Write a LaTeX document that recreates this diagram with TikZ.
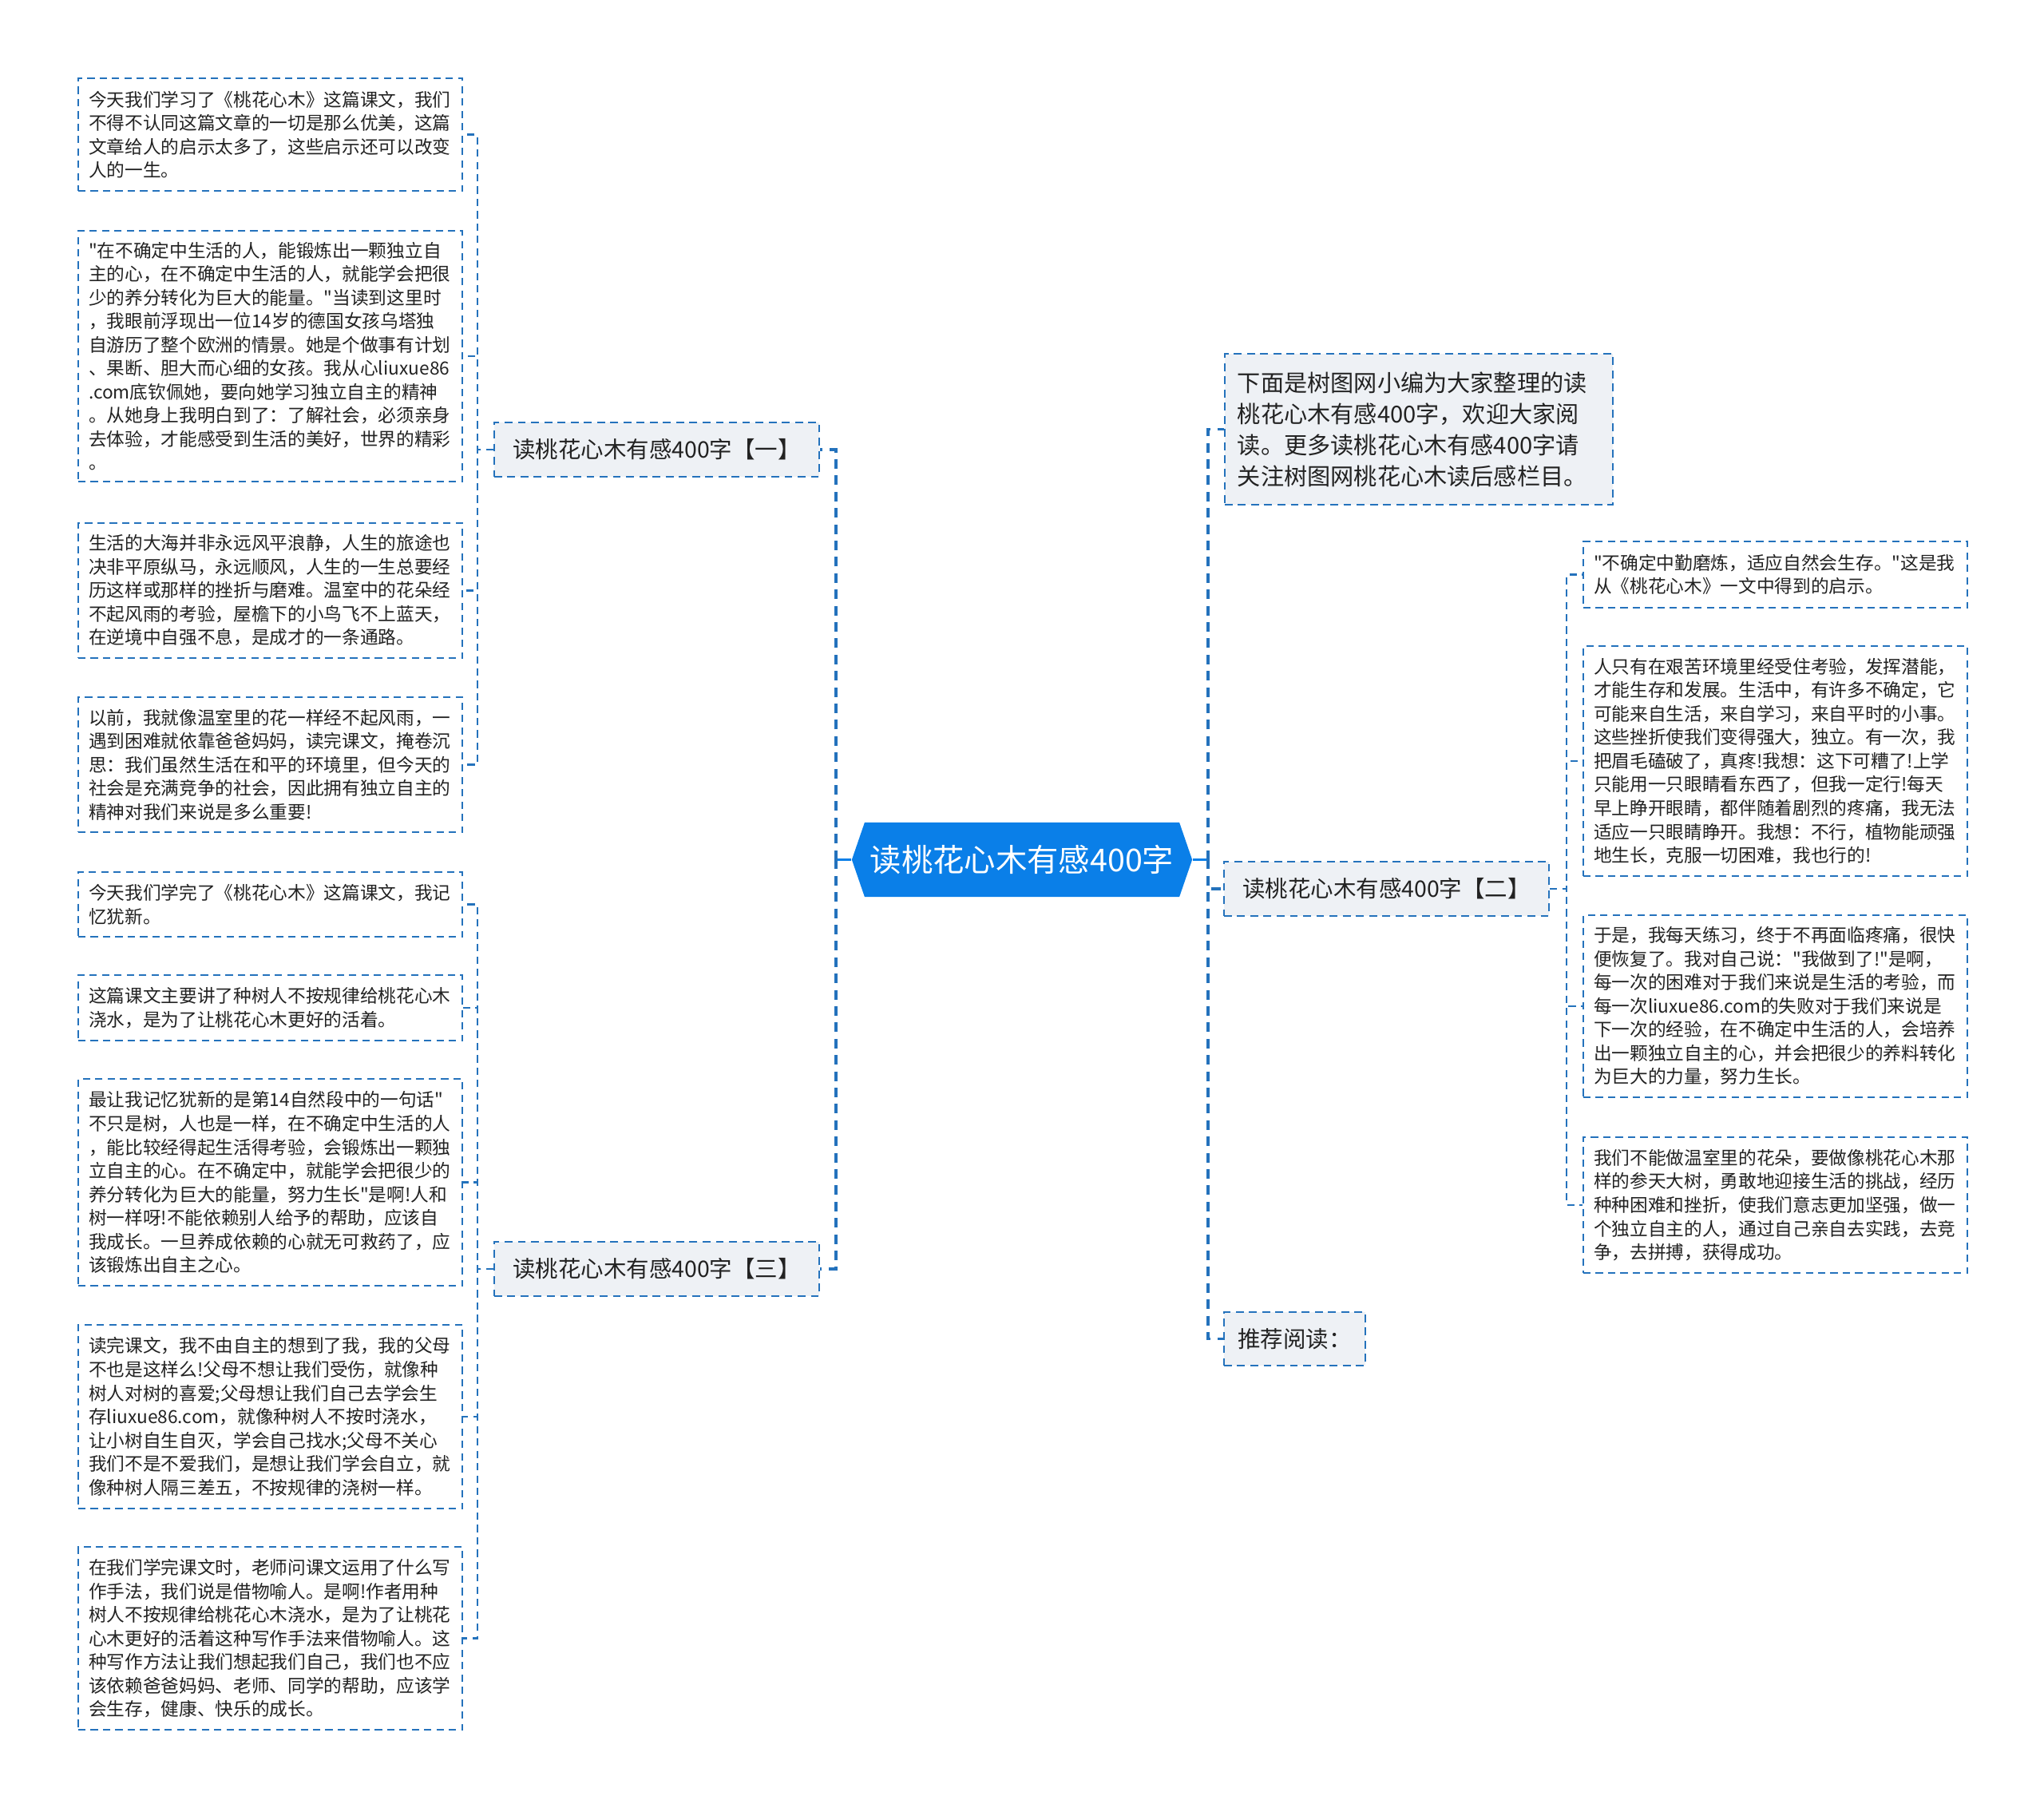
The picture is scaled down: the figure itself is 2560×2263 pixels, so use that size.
\documentclass[tikz,border=0pt]{standalone}
\usepackage{fontspec}
\setmainfont{Noto Sans CJK SC}[Ligatures=TeXOff]
\definecolor{lineblue}{RGB}{36,114,188}
\definecolor{rootblue}{RGB}{10,127,232}
\definecolor{branchgrey}{RGB}{238,241,245}
\definecolor{inkdark}{RGB}{34,34,34}
\begin{document}
\begin{tikzpicture}[
			x=0.01cm, y=-0.01cm,
			every node/.style = {text=inkdark},
			leaf/.style   = {draw=lineblue, line width=0.57pt, dash pattern=on 2.6pt off 1.8pt,
				fill=white, anchor=north west, align=left, text width=4.55cm,
				inner xsep=0.13cm, inner ysep=0.05cm, minimum width=4.81cm,
				font=\fontsize{6.45pt}{8.39pt}\selectfont},
			branch/.style = {draw=lineblue, line width=0.62pt, dash pattern=on 2.8pt off 1.9pt,
				fill=branchgrey, inner sep=0pt, minimum height=0.68cm,
				font=\fontsize{8.1pt}{10pt}\selectfont},
			intro/.style  = {branch, align=left, text width=4.54cm, inner xsep=0.16cm,
				minimum height=1.89cm, font=\fontsize{8.3pt}{11.1pt}\selectfont},
			root/.style   = {rectangle, fill=white, inner sep=0pt, minimum width=4.26cm,
				minimum height=0.93cm, text=white, font=\fontsize{11.2pt}{13pt}\selectfont,
				path picture={\fill[rootblue] (path picture bounding box.west)
					-- ([xshift=0.16cm]path picture bounding box.north west)
					-- ([xshift=-0.16cm]path picture bounding box.north east)
					-- (path picture bounding box.east)
					-- ([xshift=-0.16cm]path picture bounding box.south east)
					-- ([xshift=0.16cm]path picture bounding box.south west) -- cycle;}},
			rootline/.style = {draw=rootblue, line width=1.1pt},
			trunk/.style  = {draw=lineblue, line width=1.1pt, dash pattern=on 3.4pt off 2.4pt},
			twig/.style   = {draw=lineblue, line width=0.7pt, dash pattern=on 2.6pt off 1.8pt}
			]
			\useasboundingbox (0,0) rectangle (2560,2263);
			
			%--- centre ---
			\node[root] (root) at (1280,1076.5) {读桃花心木有感400字};
			\coordinate (lt) at (1047,1076.5);
			\coordinate (rt) at (1513,1076.5);
			
			%--- branches ---
			\node[branch, minimum width=4.07cm] (b1) at (822.5,563) {读桃花心木有感400字【一】};
			\node[branch, minimum width=4.07cm] (b3) at (822.5,1589) {读桃花心木有感400字【三】};
			\node[intro] (intro) at (1777,537.5) {下面是树图网小编为大家整理的读\\桃花心木有感400字，欢迎大家阅\\读。更多读桃花心木有感400字请\\关注树图网桃花心木读后感栏目。};
			\node[branch, minimum width=4.07cm] (b2) at (1736.5,1113) {读桃花心木有感400字【二】};
			\node[branch, minimum width=1.77cm, minimum height=0.67cm] (more) at (1621.5,1676.5) {推荐阅读：};
			
			%--- leaves, left ---
			\node[leaf, minimum height=1.41cm] (l1) at (97,97) {今天我们学习了《桃花心木》这篇课文，我们\\不得不认同这篇文章的一切是那么优美，这篇\\文章给人的启示太多了，这些启示还可以改变\\人的一生。};
			\node[leaf, minimum height=3.14cm] (l2) at (97,288) {"在不确定中生活的人，能锻炼出一颗独立自\\主的心，在不确定中生活的人，就能学会把很\\少的养分转化为巨大的能量。"当读到这里时\\，我眼前浮现出一位14岁的德国女孩乌塔独\\自游历了整个欧洲的情景。她是个做事有计划\\、果断、胆大而心细的女孩。我从心liuxue86\\.com底钦佩她，要向她学习独立自主的精神\\。从她身上我明白到了：了解社会，必须亲身\\去体验，才能感受到生活的美好，世界的精彩\\。};
			\node[leaf, minimum height=1.69cm] (l3) at (97,654) {生活的大海并非永远风平浪静，人生的旅途也\\决非平原纵马，永远顺风，人生的一生总要经\\历这样或那样的挫折与磨难。温室中的花朵经\\不起风雨的考验，屋檐下的小鸟飞不上蓝天，\\在逆境中自强不息，是成才的一条通路。};
			\node[leaf, minimum height=1.69cm] (l4) at (97,872) {以前，我就像温室里的花一样经不起风雨，一\\遇到困难就依靠爸爸妈妈，读完课文，掩卷沉\\思：我们虽然生活在和平的环境里，但今天的\\社会是充满竞争的社会，因此拥有独立自主的\\精神对我们来说是多么重要!};
			\node[leaf, minimum height=0.81cm] (l5) at (97,1091) {今天我们学完了《桃花心木》这篇课文，我记\\忆犹新。};
			\node[leaf, minimum height=0.82cm] (l6) at (97,1220) {这篇课文主要讲了种树人不按规律给桃花心木\\浇水，是为了让桃花心木更好的活着。};
			\node[leaf, minimum height=2.59cm] (l7) at (97,1350) {最让我记忆犹新的是第14自然段中的一句话"\\不只是树，人也是一样，在不确定中生活的人\\，能比较经得起生活得考验，会锻炼出一颗独\\立自主的心。在不确定中，就能学会把很少的\\养分转化为巨大的能量，努力生长"是啊!人和\\树一样呀!不能依赖别人给予的帮助，应该自\\我成长。一旦养成依赖的心就无可救药了，应\\该锻炼出自主之心。};
			\node[leaf, minimum height=2.30cm] (l8) at (97,1658) {读完课文，我不由自主的想到了我，我的父母\\不也是这样么!父母不想让我们受伤，就像种\\树人对树的喜爱;父母想让我们自己去学会生\\存liuxue86.com，就像种树人不按时浇水，\\让小树自生自灭，学会自己找水;父母不关心\\我们不是不爱我们，是想让我们学会自立，就\\像种树人隔三差五，不按规律的浇树一样。};
			\node[leaf, minimum height=2.29cm] (l9) at (97,1936) {在我们学完课文时，老师问课文运用了什么写\\作手法，我们说是借物喻人。是啊!作者用种\\树人不按规律给桃花心木浇水，是为了让桃花\\心木更好的活着这种写作手法来借物喻人。这\\种写作方法让我们想起我们自己，我们也不应\\该依赖爸爸妈妈、老师、同学的帮助，应该学\\会生存，健康、快乐的成长。};
			
			%--- leaves, right ---
			\node[leaf, minimum height=0.83cm] (r1) at (1982,677) {"不确定中勤磨炼，适应自然会生存。"这是我\\从《桃花心木》一文中得到的启示。};
			\node[leaf, minimum height=2.88cm] (r2) at (1982,808) {人只有在艰苦环境里经受住考验，发挥潜能，\\才能生存和发展。生活中，有许多不确定，它\\可能来自生活，来自学习，来自平时的小事。\\这些挫折使我们变得强大，独立。有一次，我\\把眉毛磕破了，真疼!我想：这下可糟了!上学\\只能用一只眼睛看东西了，但我一定行!每天\\早上睁开眼睛，都伴随着剧烈的疼痛，我无法\\适应一只眼睛睁开。我想：不行，植物能顽强\\地生长，克服一切困难，我也行的!};
			\node[leaf, minimum height=2.28cm] (r3) at (1982,1145) {于是，我每天练习，终于不再面临疼痛，很快\\便恢复了。我对自己说："我做到了!"是啊，\\每一次的困难对于我们来说是生活的考验，而\\每一次liuxue86.com的失败对于我们来说是\\下一次的经验，在不确定中生活的人，会培养\\出一颗独立自主的心，并会把很少的养料转化\\为巨大的力量，努力生长。};
			\node[leaf, minimum height=1.70cm] (r4) at (1982,1423) {我们不能做温室里的花朵，要做像桃花心木那\\样的参天大树，勇敢地迎接生活的挑战，经历\\种种困难和挫折，使我们意志更加坚强，做一\\个独立自主的人，通过自己亲自去实践，去竞\\争，去拼搏，获得成功。};
			
			%--- connectors ---
			\draw[rootline] (root.west) -- (lt);
			\draw[rootline] (root.east) -- (rt);
			\draw[trunk] (lt) |- (b1.east);
			\draw[trunk] (lt) |- (b3.east);
			\foreach \br in {intro,b2,more}
				\draw[trunk] (rt) |- (\br.west);
			\foreach \lf in {l1,l2,l3,l4}
				\draw[twig] (b1.west) -- ++(-20,0) |- (\lf.east);
			\foreach \lf in {l5,l6,l7,l8,l9}
				\draw[twig] (b3.west) -- ++(-20,0) |- (\lf.east);
			\foreach \lf in {r1,r2,r3,r4}
				\draw[twig] (b2.east) -- ++(21,0) |- (\lf.west);
		\end{tikzpicture}
\end{document}
